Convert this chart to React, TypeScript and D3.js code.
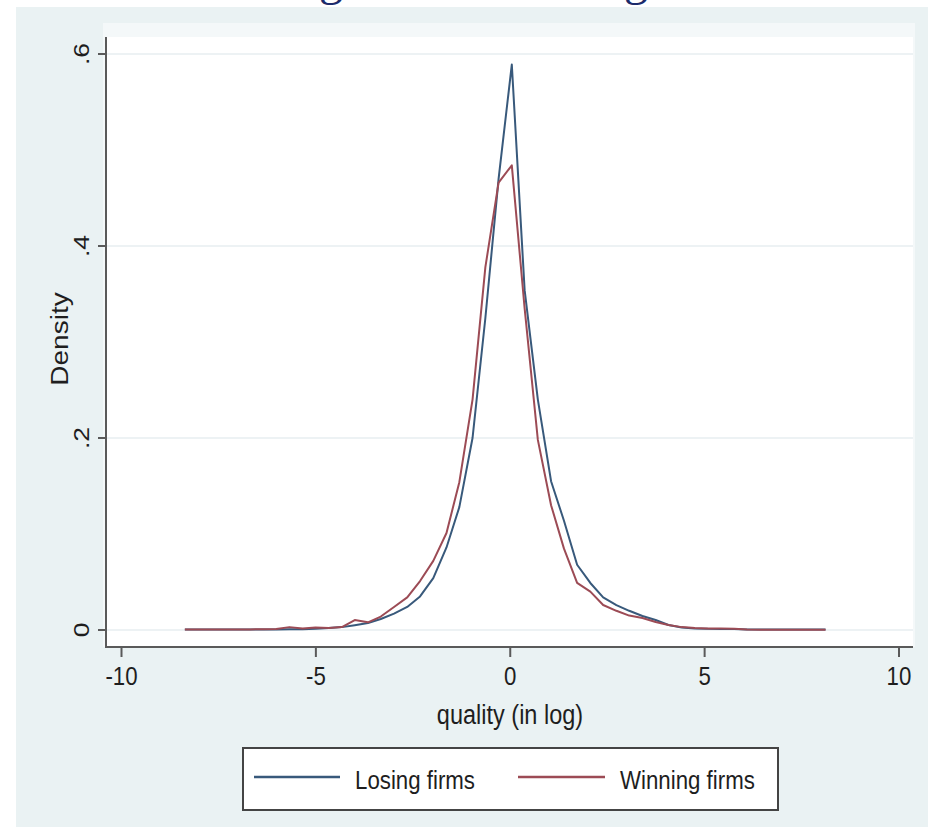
import React from 'react';
import * as d3 from 'd3';

// kernel density evaluation points (quality, in log)
const qualityGrid = [
  -8.37, -8.03, -7.70, -7.36, -7.03, -6.69, -6.35, -6.02, -5.68, -5.34,
  -5.01, -4.67, -4.33, -4.00, -3.66, -3.33, -2.99, -2.65, -2.32, -1.98,
  -1.64, -1.31, -0.97, -0.64, -0.30, 0.04, 0.37, 0.71, 1.05, 1.38,
  1.72, 2.06, 2.39, 2.73, 3.06, 3.40, 3.74, 4.07, 4.41, 4.75,
  5.08, 5.42, 5.76, 6.09, 6.43, 6.76, 7.10, 7.44, 7.77, 8.11,
];

const losingDensity = [
  0.0004, 0.0004, 0.0004, 0.0004, 0.0005, 0.0005, 0.0005, 0.0006, 0.0007, 0.0009,
  0.0012, 0.002, 0.003, 0.005, 0.0073, 0.0115, 0.017, 0.024, 0.035, 0.054,
  0.086, 0.128, 0.200, 0.325, 0.470, 0.589, 0.354, 0.240, 0.155, 0.114,
  0.068, 0.049, 0.034, 0.026, 0.020, 0.0146, 0.0104, 0.0052, 0.0026, 0.0016,
  0.0012, 0.0011, 0.001, 0.0005, 0.0004, 0.0004, 0.0004, 0.0004, 0.0004, 0.0004,
];

const winningDensity = [
  0.0004, 0.0004, 0.0004, 0.0004, 0.0005, 0.0006, 0.0008, 0.0010, 0.003, 0.0015,
  0.0025, 0.002, 0.003, 0.0104, 0.008, 0.014, 0.024, 0.034, 0.051, 0.072,
  0.101, 0.154, 0.240, 0.378, 0.466, 0.484, 0.335, 0.198, 0.130, 0.085,
  0.049, 0.040, 0.026, 0.020, 0.015, 0.0125, 0.0083, 0.0052, 0.003, 0.002,
  0.0016, 0.0015, 0.0013, 0.0004, 0.0003, 0.0003, 0.0003, 0.0003, 0.0003, 0.0003,
];

const xTicks = [-10, -5, 0, 5, 10];
const yTicks = [0, 0.2, 0.4, 0.6];
const yTickLabels = ['0', '.2', '.4', '.6'];

const seriesNames = ['Losing firms', 'Winning firms'];
const seriesColors = ['#38597b', '#9c4b55'];

const FONT = '"Liberation Sans", Arial, Helvetica, sans-serif';
const SQUEEZE = 0.84; // the original picture is stretched vertically

function Label({ x, y, text, size, anchor = 'middle', vertical = false }) {
  const tf = vertical
    ? `translate(${x},${y}) rotate(-90) scale(1,${SQUEEZE})`
    : `translate(${x},${y}) scale(${SQUEEZE},1)`;
  return (
    <text transform={tf} fontSize={size} textAnchor={anchor} fontFamily={FONT} fill="#1e1e1e">
      {text}
    </text>
  );
}

export default function App() {
  const W = 928, H = 827;
  const x = d3.scaleLinear().domain([-10, 10]).range([121.5, 899]);
  const y = d3.scaleLinear().domain([0, 0.6]).range([630, 54]);

  const plot = { left: 106, right: 913, top: 37, bottom: 647 };

  const line = d3.line<number>()
    .x((d, i) => x(qualityGrid[i]))
    .y(d => y(d));

  return (
    <div style={{ position: 'absolute', left: 0, top: 0 }}>
      <svg width={W} height={H} style={{ display: 'block', background: '#ffffff' }}>
        {/* graph region */}
        <rect x={16} y={7} width={W - 16} height={H - 7} fill="#eaf2f3" />

        {/* slide title above the graph, cut by the top edge as in the original */}
        <text x={343} y={-5} fontSize={48} textAnchor="end" fontFamily='"Liberation Serif", "DejaVu Serif", serif' fill="#1c2b6b">Losing</text>
        <text x={648} y={-5} fontSize={48} textAnchor="end" fontFamily='"Liberation Serif", "DejaVu Serif", serif' fill="#1c2b6b">Winning</text>

        {/* plot region */}
        <rect x={103} y={23} width={915 - 103} height={plot.bottom - 23} fill="#f4f8f9" />
        <rect x={plot.left} y={plot.top} width={plot.right - plot.left} height={plot.bottom - plot.top} fill="#ffffff" />

        {/* grid */}
        {yTicks.map(t => (
          <line key={'g' + t} x1={plot.left + 1} x2={plot.right} y1={y(t)} y2={y(t)} stroke="#e7eef0" strokeWidth={1.5} />
        ))}

        {/* density curves */}
        <path d={line(losingDensity) || ''} fill="none" stroke={seriesColors[0]} strokeWidth={2} strokeLinejoin="round" />
        <path d={line(winningDensity) || ''} fill="none" stroke={seriesColors[1]} strokeWidth={2} strokeLinejoin="round" />

        {/* axes */}
        <line x1={plot.left} x2={plot.left} y1={plot.top} y2={plot.bottom} stroke="#5a5a5a" strokeWidth={2} />
        <line x1={plot.left - 1} x2={plot.right} y1={plot.bottom} y2={plot.bottom} stroke="#5a5a5a" strokeWidth={2} />

        {yTicks.map((t, i) => (
          <g key={'y' + t}>
            <line x1={plot.left - 8} x2={plot.left} y1={y(t)} y2={y(t)} stroke="#5a5a5a" strokeWidth={2} />
            <Label x={89} y={y(t)} text={yTickLabels[i]} size={26.5} vertical />
          </g>
        ))}

        {xTicks.map(t => (
          <g key={'x' + t}>
            <line x1={x(t)} x2={x(t)} y1={plot.bottom} y2={plot.bottom + 10} stroke="#5a5a5a" strokeWidth={2} />
            <Label x={x(t)} y={685} text={String(t)} size={26.5} />
          </g>
        ))}

        {/* axis titles */}
        <Label x={68} y={339} text="Density" size={28} vertical />
        <Label x={510} y={724} text="quality (in log)" size={28} />

        {/* legend */}
        <rect x={243} y={748} width={778 - 243} height={810 - 748} fill="#ffffff" stroke="#444" strokeWidth={2} />
        <line x1={254} x2={340} y1={777} y2={777} stroke={seriesColors[0]} strokeWidth={2.5} />
        <Label x={355} y={789} text={seriesNames[0]} size={26.5} anchor="start" />
        <line x1={518} x2={605} y1={777} y2={777} stroke={seriesColors[1]} strokeWidth={2.5} />
        <Label x={620} y={789} text={seriesNames[1]} size={26.5} anchor="start" />
      </svg>
    </div>
  );
}
